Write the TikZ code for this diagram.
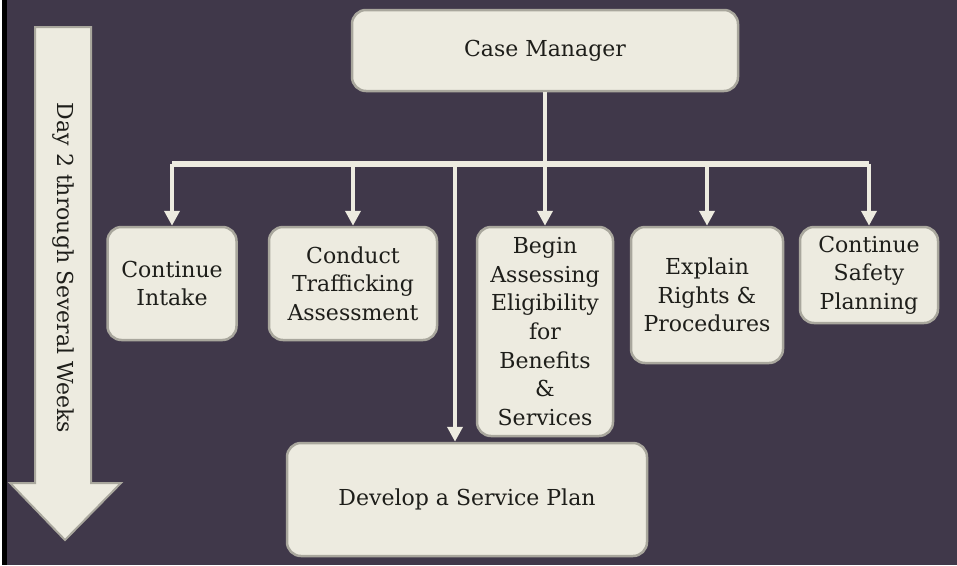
\documentclass[tikz,border=0pt]{standalone}
\usepackage{fontspec}
\setmainfont{DejaVu Serif}
\usetikzlibrary{arrows.meta}
\definecolor{mbg}{HTML}{40384A}
\definecolor{mcream}{HTML}{EDEBE0}
\definecolor{medge}{HTML}{A9A79D}
\definecolor{mink}{HTML}{1E1E1A}
\tikzset{stepbox/.style = {draw = medge, line width = 2.5pt, fill = mcream, rounded corners = 14pt,
    align = center, text = mink, inner sep = 2pt, font = \fontsize{22}{28.7}\selectfont}}
\tikzset{link/.style = {draw = mcream, line width = 4.5pt, -{Triangle[width = 15pt, length = 15pt]}}}
\begin{document}
\begin{tikzpicture}[x = 1pt, y = -1pt]
    \useasboundingbox (0, 0) rectangle (957, 565);
    \fill [mbg] (0, 0) rectangle (957, 565);
    \fill [white] (0, 0) rectangle (2, 565);
    \fill [black] (2, 0) rectangle (7, 565);

    \filldraw [fill = mcream, draw = medge, line width = 2pt]
      (35, 27) -- (91, 27) -- (91, 483) -- (121, 483) -- (65, 540) -- (10, 483) -- (35, 483) -- cycle;
    \node [rotate = -90, text = mink, font = \fontsize{22}{26}\selectfont] (days) at (63, 268) {Day 2 through Several Weeks};

    \node [stepbox, minimum width = 386, minimum height = 81] (cm) at (545, 50.5) {Case Manager};
    \node [stepbox, minimum width = 129, minimum height = 113] (intake) at (172, 283.5) {Continue\\Intake};
    \node [stepbox, minimum width = 168, minimum height = 113] (assess) at (353, 283.5) {Conduct\\Trafficking\\Assessment};
    \node [stepbox, minimum width = 136, minimum height = 209] (benefits) at (545, 331.5) {Begin\\Assessing\\Eligibility\\for\\Benefits\\\&\\Services};
    \node [stepbox, minimum width = 152, minimum height = 136] (rights) at (707, 295) {Explain\\Rights \&\\Procedures};
    \node [stepbox, minimum width = 138, minimum height = 96] (safety) at (869, 275) {Continue\\Safety\\Planning};
    \node [stepbox, minimum width = 360, minimum height = 113] (plan) at (467, 499.5) {Develop a Service Plan};

    \coordinate (bar) at (0, 163.5);
    \coordinate (dev) at (455, 163.5);
    \draw [draw = mcream, line width = 6pt] (intake.north |- bar) -- (safety.north |- bar);
    \draw [link] (cm.south) -- (benefits.north);
    \draw [link] (intake.north |- bar) -- (intake.north);
    \draw [link] (assess.north |- bar) -- (assess.north);
    \draw [link] (rights.north |- bar) -- (rights.north);
    \draw [link] (safety.north |- bar) -- (safety.north);
    \draw [link] (dev) -- (dev |- plan.north);
\end{tikzpicture}
\end{document}
